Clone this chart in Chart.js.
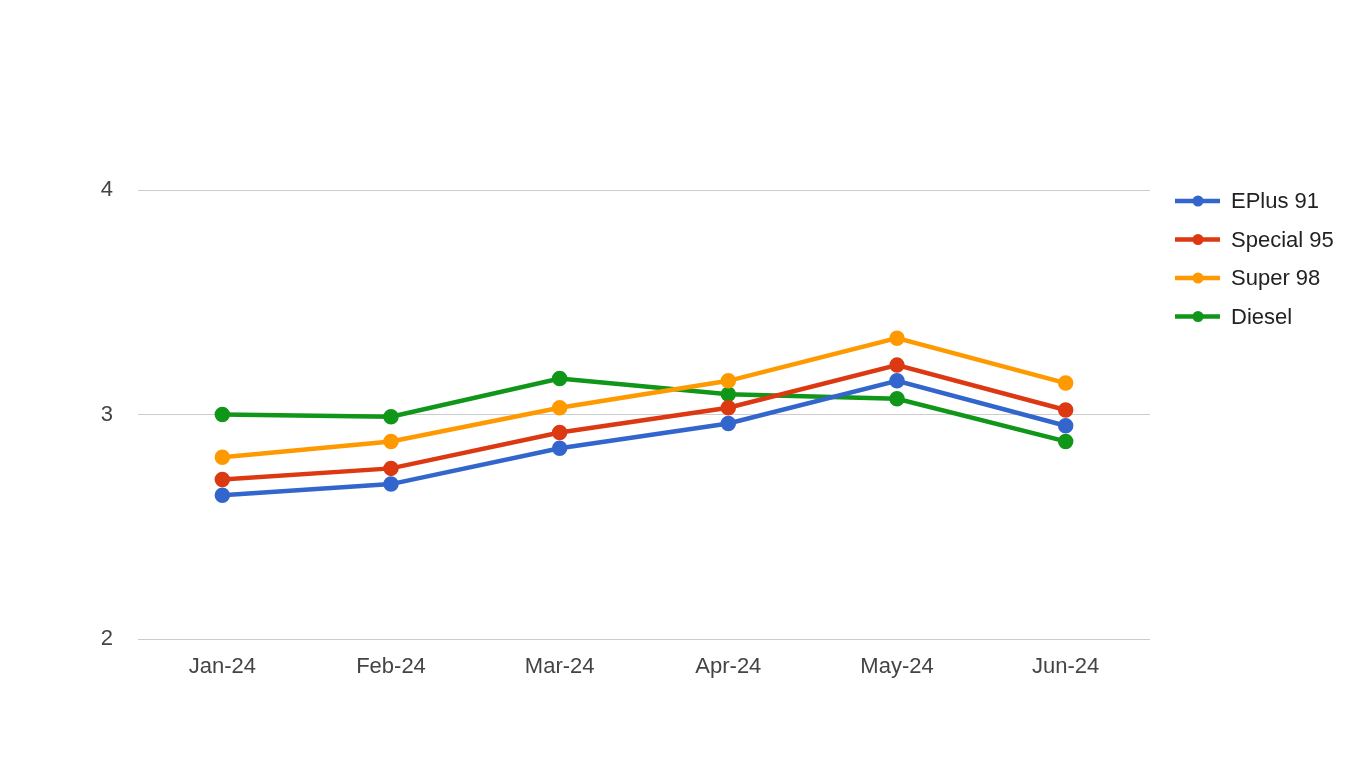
<!DOCTYPE html>
<html>
<head>
<meta charset="utf-8">
<script src="https://cdn.jsdelivr.net/npm/chart.js@4"></script>
<style>
  html, body { margin: 0; padding: 0; background: #fff; }
  #wrap { width: 1366px; height: 768px; position: relative; }
</style>
</head>
<body>
<div id="wrap"><canvas id="chart"></canvas></div>
<script>
// данные графика
const months = ['Jan-24', 'Feb-24', 'Mar-24', 'Apr-24', 'May-24', 'Jun-24'];
const eplus91 = [2.64, 2.69, 2.85, 2.96, 3.15, 2.95];
const special95 = [2.71, 2.76, 2.92, 3.03, 3.22, 3.02];
const super98 = [2.81, 2.88, 3.03, 3.15, 3.34, 3.14];
const diesel = [3.00, 2.99, 3.16, 3.09, 3.07, 2.88];
const seriesNames = ['EPlus 91', 'Special 95', 'Super 98', 'Diesel'];
const seriesColors = ['#3366cc', '#dc3912', '#ff9900', '#109618'];

const FONT = '"Liberation Sans", Arial, sans-serif';

function makeDataset(i, values) {
    return {
        label: seriesNames[i],
        data: values,
        borderColor: seriesColors[i],
        backgroundColor: seriesColors[i],
        borderWidth: 4.5,
        pointRadius: 5.5,
        pointHoverRadius: 6,
        tension: 0,
        fill: false
    };
}

// легенда справа, как в Google Charts
const sideLegend = {
    id: 'sideLegend',
    afterDraw(chart) {
        const ctx = chart.ctx;
        const x0 = 1175;
        let y = 201;
        ctx.save();
        ctx.font = '22px ' + FONT;
        ctx.textBaseline = 'middle';
        chart.data.datasets.forEach(ds => {
            ctx.strokeStyle = ds.borderColor;
            ctx.lineWidth = 4.5;
            ctx.beginPath();
            ctx.moveTo(x0, y);
            ctx.lineTo(x0 + 45, y);
            ctx.stroke();
            ctx.fillStyle = ds.borderColor;
            ctx.beginPath();
            ctx.arc(x0 + 23, y, 5.5, 0, Math.PI * 2);
            ctx.fill();
            ctx.fillStyle = '#222';
            ctx.fillText(ds.label, x0 + 56, y + 1);
            y += 38.5;
        });
        ctx.restore();
    }
};

new Chart(document.getElementById('chart'), {
    type: 'line',
    data: {
        labels: months,
        datasets: [
            makeDataset(0, eplus91),
            makeDataset(1, special95),
            makeDataset(2, super98),
            makeDataset(3, diesel)
        ]
    },
    options: {
        responsive: true,
        maintainAspectRatio: false,
        animation: false,
        layout: {
            padding: { left: 0, top: 190, right: 216, bottom: 0 }
        },
        plugins: {
            legend: { display: false },
            title: { display: false },
            tooltip: { enabled: false }
        },
        scales: {
            x: {
                offset: true,
                afterFit(scale) { scale.height = 129; },
                grid: { display: false, drawTicks: false },
                border: { display: false },
                ticks: {
                    padding: 15,
                    color: '#444',
                    font: { family: FONT, size: 22 }
                }
            },
            y: {
                min: 2,
                max: 4,
                afterFit(scale) { scale.width = 138; },
                grid: { color: '#cccccc', drawTicks: false, lineWidth: 1 },
                border: { display: false },
                ticks: {
                    stepSize: 1,
                    padding: 25,
                    color: '#444',
                    font: { family: FONT, size: 22 }
                }
            }
        }
    },
    plugins: [sideLegend]
});
</script>
</body>
</html>
